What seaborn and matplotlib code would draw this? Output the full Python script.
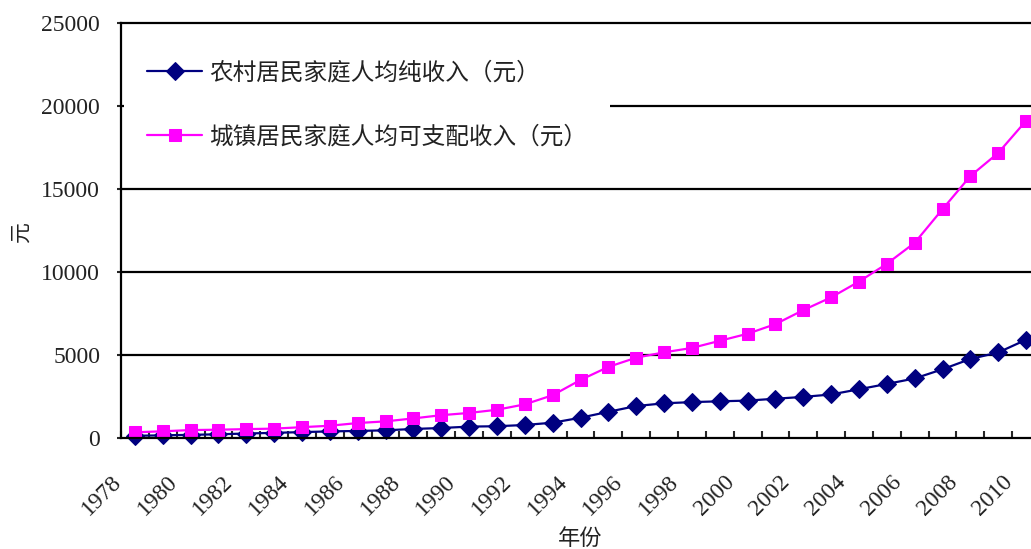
import numpy as np
import pandas as pd
import seaborn as sns
import matplotlib
matplotlib.use('Agg')
from matplotlib import pyplot as plt
from matplotlib.transforms import ScaledTranslation

# data: per capita income, 1978-2010 (yuan)
years = list(range(1978, 2011))
rural = [134, 160, 191, 223, 270, 310, 355, 398, 424, 463, 545, 602, 686, 709, 784,
         922, 1221, 1578, 1926, 2090, 2162, 2210, 2253, 2366, 2476, 2622, 2936, 3255,
         3587, 4140, 4761, 5153, 5919]
urban = [343, 405, 478, 500, 535, 565, 652, 739, 901, 1002, 1180, 1374, 1510, 1701, 2027,
         2577, 3496, 4283, 4839, 5160, 5425, 5854, 6280, 6860, 7703, 8472, 9422, 10493,
         11760, 13786, 15781, 17175, 19109]
rural_label = '农村居民家庭人均纯收入（元）'
urban_label = '城镇居民家庭人均可支配收入（元）'
y_ticks = [0, 5000, 10000, 15000, 20000, 25000]

df = pd.DataFrame({'idx': np.arange(len(years)), 'year': years,
                   'rural': rural, 'urban': urban})

sns.set_style("white")
plt.rcParams['font.family'] = ['Liberation Serif', 'Noto Sans CJK SC']
cjk = ['Noto Sans CJK SC', 'Liberation Serif']

fig = plt.figure(figsize=(10.31, 5.49), dpi=100)
ax = fig.add_axes([121/1031, 111/549, 919/1031, 415/549])

#lines
sns.lineplot(data=df, x='idx', y='rural', ax=ax, color='#000080', marker='D',
             markersize=9.5, markeredgecolor='#000080', linewidth=1.6,
             label=rural_label, clip_on=False, zorder=3)
sns.lineplot(data=df, x='idx', y='urban', ax=ax, color='#FF00FF', marker='s',
             markersize=8, markeredgecolor='#FF00FF', linewidth=1.6,
             label=urban_label, clip_on=False, zorder=4)

ax.set_xlim(-0.5, len(years) - 0.5)
ax.set_ylim(0, 25000)

# y axis
ax.set_yticks(y_ticks)
ax.set_yticklabels([str(v) for v in y_ticks], fontsize=17, color='#222222')
ax.tick_params(axis='y', direction='out', length=3, width=1.5, pad=12, left=True)
for v in y_ticks[1:-1]:
    ax.axhline(v, color='black', linewidth=1.6, zorder=1)

# x axis: tick marks on category boundaries, labels every 2 years
bounds = np.arange(-0.5, len(years) - 0.5, 1)
ax.set_xticks(bounds)
ax.set_xticklabels([str(y) if (y - 1978) % 2 == 0 else '' for y in years],
                   fontsize=17, color='#222222')
ax.tick_params(axis='x', direction='in', length=5, width=1.5, pad=24, bottom=True)
off = ScaledTranslation(-0.10, 0, fig.dpi_scale_trans)
for lab in ax.get_xticklabels():
    lab.set_rotation(45)
    lab.set_ha('right')
    lab.set_va('top')
    lab.set_rotation_mode('anchor')
    lab.set_transform(lab.get_transform() + off)

for s in ['left', 'bottom', 'top']:
    ax.spines[s].set_color('black')
    ax.spines[s].set_linewidth(1.6)
    ax.spines[s].set_zorder(6)
ax.spines['right'].set_visible(False)

ax.set_xlabel('年份', fontsize=16, family=cjk, color='#222222', labelpad=0)
ax.xaxis.set_label_coords((580 - 121) / 919, -(527 - 438) / 415)
ax.set_ylabel('元', fontsize=15, family=cjk, color='#222222')
ax.yaxis.set_label_coords(-(121 - 32) / 919, (438 - 232) / 415)

leg = ax.legend(loc='upper left', bbox_to_anchor=(0.003, 0.964), borderaxespad=0,
                borderpad=1.0, labelspacing=1.72, handlelength=2.3, handletextpad=0.3,
                frameon=True, facecolor='white', edgecolor='none', framealpha=1,
                prop={'family': cjk, 'size': 17})
leg.set_zorder(5)
for t in leg.get_texts():
    t.set_color('#222222')

fig.savefig('out.png', dpi=100)
